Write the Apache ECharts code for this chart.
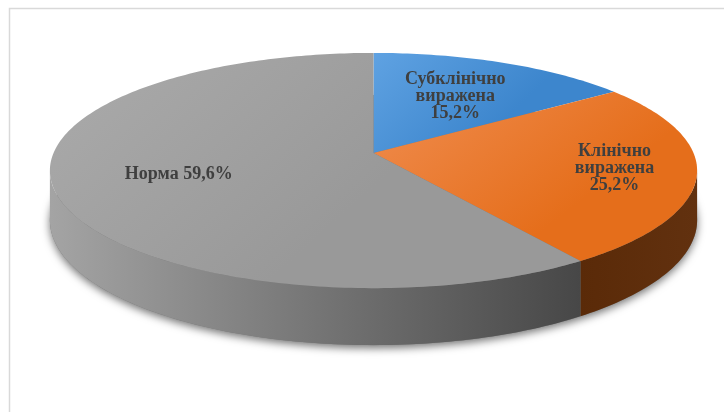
<!DOCTYPE html>
<html>
<head>
<meta charset="utf-8">
<script src="https://cdn.jsdelivr.net/npm/echarts@6/dist/echarts.min.js"></script>
<style>
html,body{margin:0;padding:0;background:#fff;}
#chart{width:724px;height:412px;}
</style>
</head>
<body>
<div id="chart"></div>
<script>
// ---- data ----
const categories = ['Субклінічно виражена', 'Клінічно виражена', 'Норма'];
const values = [15.2, 25.2, 59.6];

// ---- styles ----
const topColors = [
  ['#5fa2e2', '#3d86cd'],
  ['#f08d50', '#e56e1b'],
  ['#ababab', '#999999']
];
const sideColors = [
  ['#2f6aa6', '#245a90'],
  ['#5a2a08', '#62310f'],
  ['#a4a4a4', '#474747']
];
const labelRadius = [0.6, 0.75, 0.62];

// ---- projection (layout) ----
const CX = 373.5, AY = 153, A = 320, K = 115, PA = 0.149, DEPTH = 48.5;
function proj(t, r, dz) {
  const w = 1 + PA * r * Math.cos(t);
  return [CX + A * r * Math.sin(t) / w, AY - K * r * Math.cos(t) / w + DEPTH * dz / (1 + PA * Math.cos(t))];
}
function arc(s, e, dz) {
  const pts = [];
  const n = Math.max(2, Math.ceil((e - s) / (Math.PI / 180)));
  for (let k = 0; k <= n; k++) pts.push(proj(s + (e - s) * k / n, 1, dz));
  return pts;
}
function fmt(v) { return v.toFixed(1).replace('.', ',') + '%'; }
function labelText(name, v) {
  return name.indexOf(' ') >= 0 ? name.replace(' ', '\n') + '\n' + fmt(v) : name + ' ' + fmt(v);
}

const total = values.reduce((a, b) => a + b, 0);
const tVis0 = Math.acos(-PA), tVis1 = 2 * Math.PI - Math.acos(-PA);

function renderItem(params, api) {
  const i = params.dataIndex;
  let before = 0;
  for (let k = 0; k < i; k++) before += values[k];
  const s = before / total * 2 * Math.PI;
  const e = s + api.value(0) / total * 2 * Math.PI;
  const children = [];
  if (i === 0) {
    children.push({
      type: 'polygon', shape: { points: arc(0, 2 * Math.PI, 1) },
      style: { fill: '#777', shadowBlur: 9, shadowOffsetY: 3, shadowColor: 'rgba(0,0,0,0.55)' }, silent: true
    });
  }
  const ss = Math.max(s, tVis0), se = Math.min(e, tVis1);
  if (se > ss) {
    const pts = arc(ss, se, 0).concat(arc(ss, se, 1).reverse());
    children.push({
      type: 'polygon', shape: { points: pts },
      style: { fill: new echarts.graphic.LinearGradient(0, 0, 1, 0, [
        { offset: 0, color: sideColors[i][0] }, { offset: 1, color: sideColors[i][1] }]) }
    });
  }
  const topPts = [proj(0, 0, 0)].concat(arc(s, e, 0));
  children.push({
    type: 'polygon', shape: { points: topPts },
    style: { fill: new echarts.graphic.LinearGradient(0, 0, 0.4, 1, [
      { offset: 0, color: topColors[i][0] }, { offset: 1, color: topColors[i][1] }]) }
  });
  const m = (s + e) / 2;
  const lp = proj(m, labelRadius[i], 0);
  children.push({
    type: 'text', z2: 100,
    style: {
      text: labelText(categories[i], api.value(0)), x: lp[0], y: lp[1],
      align: 'center', verticalAlign: 'middle',
      font: 'bold 18px "Liberation Serif", "Times New Roman", serif',
      fill: '#3f3f3f', lineHeight: 17
    }
  });
  return { type: 'group', children: children };
}

const chart = echarts.init(document.getElementById('chart'), null, { renderer: 'canvas' });
chart.setOption({
  backgroundColor: '#fff',
  animation: false,
  graphic: [{
    type: 'rect', shape: { x: 9.5, y: 8.5, width: 800, height: 500 },
    style: { fill: 'none', stroke: '#d9d9d9', lineWidth: 1.5 }, silent: true
  }],
  series: [{
    type: 'custom',
    coordinateSystem: 'none',
    renderItem: renderItem,
    data: values.map((v, i) => ({ name: categories[i], value: [v] }))
  }]
});
</script>
</body>
</html>
